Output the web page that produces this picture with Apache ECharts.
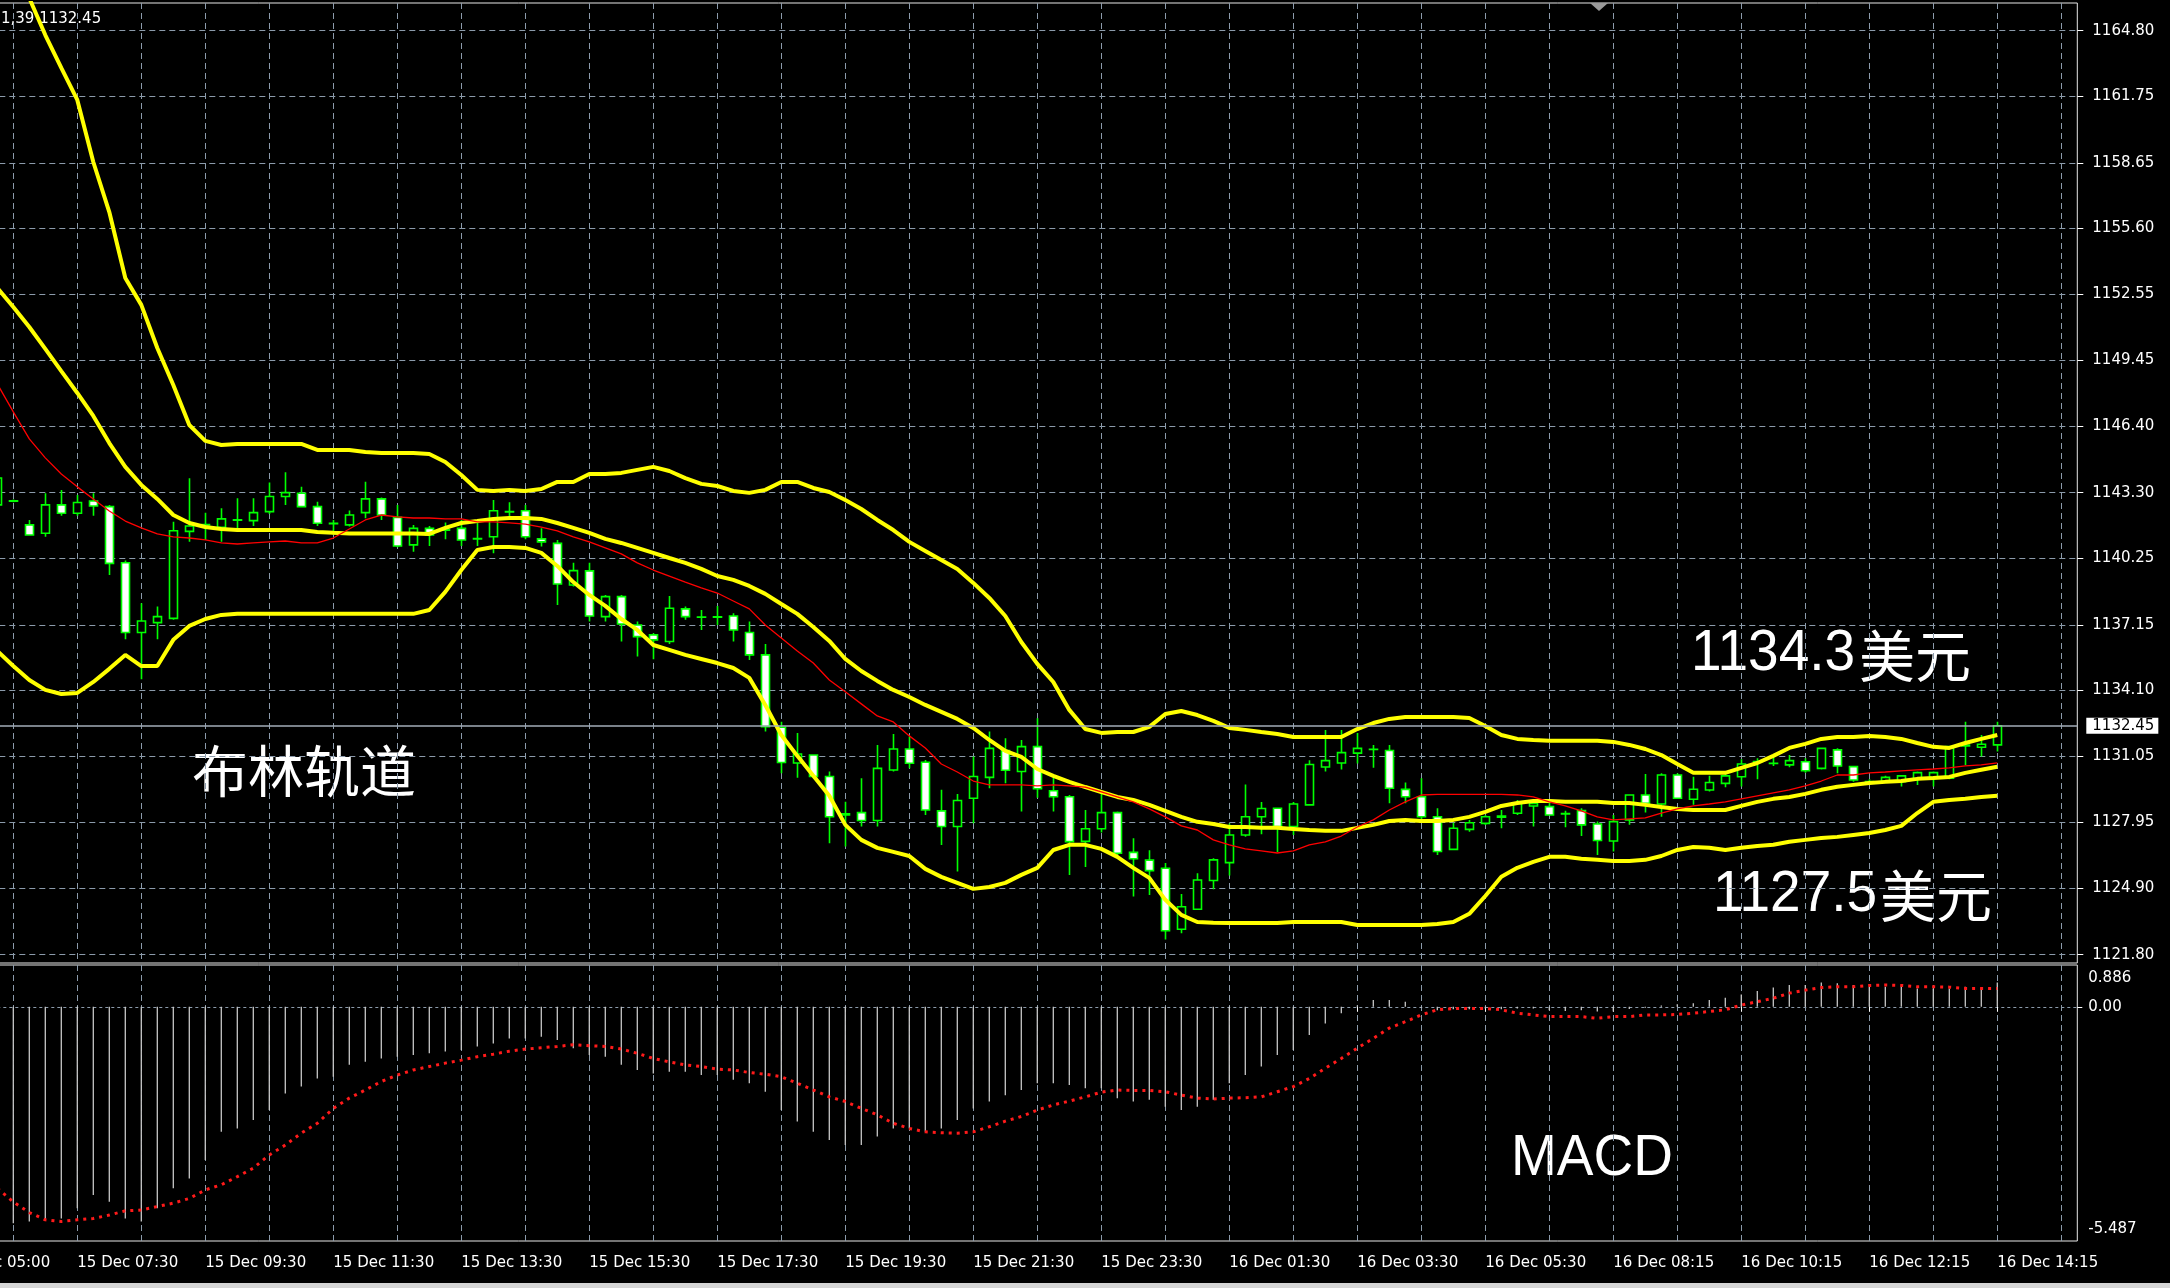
<!DOCTYPE html>
<html><head><meta charset="utf-8">
<style>html,body{margin:0;padding:0;background:#000;}#c{width:2170px;height:1288px;}</style>
<script src="https://cdn.jsdelivr.net/npm/echarts@6/dist/echarts.min.js"></script>
</head><body><div id="c"></div><script>
// ---------- data (bar k = 0..125, M15 candles) ----------
const TIME_LABELS = ["15 Dec 05:00","15 Dec 07:30","15 Dec 09:30","15 Dec 11:30","15 Dec 13:30","15 Dec 15:30","15 Dec 17:30","15 Dec 19:30","15 Dec 21:30","15 Dec 23:30","16 Dec 01:30","16 Dec 03:30","16 Dec 05:30","16 Dec 08:15","16 Dec 10:15","16 Dec 12:15","16 Dec 14:15"];
const PRICE_TICKS = [1121.80,1124.90,1127.95,1131.05,1134.10,1137.15,1140.25,1143.30,1146.40,1149.45,1152.55,1155.60,1158.65,1161.75,1164.80];
const MACD_TICKS = [0.886, 0, -5.487];
const MACD_TICK_LABELS = ["0.886","0.00","-5.487"];

const open = [1142.73,1142.90,1141.80,1141.41,1142.73,1142.34,1142.91,1142.65,1140.04,1136.79,1137.25,1137.45,1141.50,1141.80,1141.69,1142.02,1142.00,1142.42,1143.12,1143.27,1142.65,1141.88,1141.80,1142.37,1143.01,1142.15,1140.87,1141.64,1141.55,1141.64,1141.15,1141.25,1142.40,1142.46,1141.15,1140.94,1139.00,1139.66,1137.53,1138.46,1137.14,1136.68,1136.37,1137.89,1137.50,1137.52,1137.56,1136.79,1135.75,1132.38,1130.72,1131.09,1130.09,1128.30,1128.41,1128.04,1130.39,1131.37,1130.75,1128.49,1127.76,1129.08,1130.05,1131.30,1130.32,1131.48,1129.43,1129.15,1127.07,1127.66,1128.41,1126.56,1126.20,1125.82,1122.98,1123.91,1125.25,1126.08,1127.37,1128.22,1128.61,1127.76,1128.77,1130.53,1130.72,1131.18,1131.35,1131.30,1129.49,1129.15,1128.22,1126.70,1127.63,1127.91,1128.20,1128.38,1128.72,1128.69,1128.35,1128.50,1127.88,1127.09,1128.07,1129.23,1128.81,1130.16,1129.03,1129.46,1129.77,1130.08,1130.78,1130.70,1130.63,1130.78,1130.47,1131.33,1130.55,1129.85,1129.85,1129.85,1129.96,1130.05,1130.01,1131.51,1131.45,1131.56];
const close = [1143.98,1142.92,1141.33,1142.73,1142.34,1142.84,1142.68,1140.01,1136.79,1137.33,1137.53,1141.53,1141.75,1141.82,1142.08,1142.04,1142.37,1143.12,1143.30,1142.65,1141.88,1141.86,1142.26,1143.01,1142.26,1140.82,1141.64,1141.33,1141.58,1141.10,1141.16,1142.46,1142.42,1141.25,1141.01,1139.05,1139.67,1137.56,1138.46,1137.19,1136.60,1136.45,1137.92,1137.53,1137.51,1137.50,1136.91,1135.75,1132.41,1130.74,1131.14,1130.09,1128.22,1128.35,1128.04,1130.47,1131.37,1130.71,1128.53,1127.76,1128.97,1130.09,1131.40,1130.38,1131.48,1129.52,1129.15,1127.06,1127.66,1128.41,1126.52,1126.26,1125.71,1122.91,1124.03,1125.27,1126.21,1127.37,1128.22,1128.60,1127.76,1128.81,1130.65,1130.83,1131.20,1131.40,1131.36,1129.54,1129.15,1128.22,1126.60,1127.68,1127.94,1128.22,1128.25,1128.84,1128.84,1128.30,1128.36,1127.84,1127.11,1127.99,1129.23,1128.84,1130.16,1129.08,1129.50,1129.81,1130.12,1130.67,1130.79,1130.71,1130.83,1130.36,1131.40,1130.58,1129.93,1129.86,1130.05,1130.12,1130.27,1130.27,1131.48,1131.55,1131.59,1132.45];
const low = [1142.50,1142.85,1141.30,1141.25,1142.22,1142.22,1142.22,1139.47,1136.48,1134.62,1136.48,1137.38,1141.02,1141.10,1141.02,1141.64,1141.75,1142.31,1142.73,1142.62,1141.75,1141.33,1141.72,1142.11,1142.03,1140.76,1140.55,1140.82,1141.13,1140.82,1140.82,1140.48,1142.18,1141.13,1140.79,1138.07,1138.93,1137.30,1137.30,1136.37,1135.68,1135.55,1136.26,1137.38,1136.91,1137.14,1136.37,1135.51,1132.18,1130.24,1130.03,1130.01,1126.98,1126.83,1127.76,1127.76,1130.32,1130.47,1128.30,1126.90,1125.67,1127.91,1129.54,1129.78,1128.46,1129.10,1128.46,1125.51,1125.88,1127.48,1126.44,1124.50,1124.58,1122.50,1122.79,1123.88,1124.84,1125.48,1127.29,1127.40,1126.58,1127.37,1128.73,1130.32,1130.41,1130.70,1130.50,1128.84,1128.84,1128.07,1126.44,1126.70,1127.52,1127.83,1127.68,1128.30,1127.76,1128.28,1127.73,1127.32,1126.44,1126.60,1127.84,1128.41,1128.22,1129.05,1128.77,1129.39,1129.59,1129.62,1129.96,1130.58,1130.52,1130.27,1130.42,1130.24,1129.85,1129.74,1129.80,1129.62,1129.70,1129.62,1129.96,1130.63,1131.02,1131.25];
const high = [1144.30,1142.98,1142.03,1143.27,1143.43,1143.19,1143.27,1142.73,1140.14,1138.15,1138.00,1141.95,1143.97,1142.37,1142.57,1143.04,1143.04,1143.77,1144.25,1143.58,1142.88,1142.03,1142.47,1143.81,1143.08,1142.73,1141.80,1141.75,1141.91,1142.03,1141.91,1142.96,1142.85,1142.73,1141.64,1141.10,1140.04,1140.04,1138.54,1138.54,1137.30,1136.76,1138.49,1138.00,1137.84,1138.03,1137.69,1137.30,1136.26,1132.64,1132.12,1131.12,1130.32,1128.92,1130.01,1131.56,1132.07,1131.95,1130.86,1129.47,1129.28,1131.02,1132.18,1131.87,1131.79,1132.80,1130.09,1129.23,1128.53,1129.31,1128.46,1127.22,1126.66,1126.06,1124.62,1125.59,1126.29,1127.90,1129.72,1128.90,1128.64,1128.90,1130.85,1132.26,1132.26,1132.12,1131.56,1131.56,1129.81,1130.01,1128.61,1127.94,1128.07,1128.30,1128.53,1129.00,1128.87,1128.87,1128.50,1128.61,1127.99,1128.30,1129.25,1130.21,1130.24,1130.24,1130.08,1130.12,1130.19,1130.89,1130.94,1130.98,1131.09,1130.94,1131.42,1131.40,1130.58,1129.96,1130.12,1130.16,1130.32,1130.32,1131.51,1132.64,1132.02,1132.64];

const bbUpper = [1169.72,1168.00,1166.32,1164.60,1163.07,1161.58,1158.69,1156.36,1153.29,1152.04,1150.03,1148.31,1146.45,1145.71,1145.52,1145.57,1145.57,1145.57,1145.57,1145.57,1145.29,1145.29,1145.29,1145.19,1145.15,1145.15,1145.15,1145.10,1144.73,1144.12,1143.43,1143.38,1143.43,1143.38,1143.47,1143.80,1143.80,1144.17,1144.17,1144.22,1144.36,1144.50,1144.31,1143.98,1143.71,1143.61,1143.38,1143.29,1143.43,1143.80,1143.80,1143.52,1143.33,1142.96,1142.54,1142.03,1141.56,1141.01,1140.59,1140.17,1139.75,1139.10,1138.40,1137.56,1136.35,1135.33,1134.49,1133.19,1132.30,1132.12,1132.16,1132.16,1132.40,1133.00,1133.14,1132.95,1132.68,1132.35,1132.26,1132.16,1132.07,1131.93,1131.93,1131.93,1131.93,1132.30,1132.58,1132.77,1132.86,1132.86,1132.86,1132.86,1132.81,1132.44,1132.02,1131.84,1131.79,1131.75,1131.75,1131.75,1131.75,1131.70,1131.56,1131.37,1131.09,1130.67,1130.26,1130.26,1130.26,1130.49,1130.72,1131.05,1131.42,1131.61,1131.84,1131.93,1131.93,1131.98,1131.93,1131.84,1131.65,1131.47,1131.42,1131.65,1131.84,1132.02];
const bbMiddle = [1152.83,1151.94,1151.01,1149.99,1148.96,1147.94,1146.87,1145.61,1144.50,1143.66,1143.01,1142.26,1141.89,1141.70,1141.61,1141.56,1141.56,1141.56,1141.56,1141.56,1141.47,1141.43,1141.40,1141.40,1141.40,1141.40,1141.40,1141.38,1141.66,1141.89,1141.98,1142.08,1142.12,1142.12,1142.08,1141.89,1141.66,1141.43,1141.15,1140.96,1140.73,1140.50,1140.26,1140.03,1139.75,1139.42,1139.24,1138.96,1138.59,1138.12,1137.66,1137.05,1136.40,1135.56,1135.00,1134.54,1134.12,1133.79,1133.42,1133.10,1132.77,1132.35,1131.79,1131.28,1131.00,1130.44,1130.12,1129.84,1129.60,1129.37,1129.14,1129.00,1128.77,1128.49,1128.21,1127.98,1127.88,1127.74,1127.74,1127.70,1127.70,1127.65,1127.60,1127.56,1127.56,1127.70,1127.84,1128.02,1128.07,1128.02,1128.02,1128.07,1128.21,1128.44,1128.72,1128.86,1128.95,1128.95,1128.91,1128.91,1128.91,1128.86,1128.86,1128.77,1128.67,1128.58,1128.53,1128.53,1128.53,1128.72,1128.91,1129.05,1129.14,1129.28,1129.47,1129.61,1129.70,1129.79,1129.84,1129.88,1129.98,1130.02,1130.07,1130.26,1130.40,1130.54];
const bbLower = [1135.93,1135.23,1134.58,1134.12,1133.93,1133.98,1134.49,1135.10,1135.75,1135.23,1135.23,1136.45,1137.10,1137.42,1137.61,1137.66,1137.66,1137.66,1137.66,1137.66,1137.66,1137.66,1137.66,1137.66,1137.66,1137.66,1137.66,1137.84,1138.68,1139.70,1140.63,1140.77,1140.77,1140.73,1140.50,1139.89,1139.14,1138.54,1138.03,1137.42,1136.91,1136.21,1135.98,1135.75,1135.56,1135.37,1135.14,1134.68,1133.42,1132.02,1131.05,1130.12,1129.19,1127.84,1127.14,1126.77,1126.58,1126.39,1125.79,1125.42,1125.14,1124.86,1124.95,1125.14,1125.51,1125.84,1126.67,1126.91,1126.91,1126.72,1126.35,1125.84,1125.37,1124.35,1123.65,1123.32,1123.28,1123.27,1123.27,1123.27,1123.27,1123.32,1123.32,1123.32,1123.32,1123.18,1123.18,1123.18,1123.18,1123.18,1123.23,1123.32,1123.70,1124.53,1125.42,1125.84,1126.12,1126.35,1126.35,1126.26,1126.21,1126.16,1126.16,1126.21,1126.39,1126.67,1126.81,1126.77,1126.67,1126.77,1126.86,1126.91,1127.05,1127.14,1127.23,1127.28,1127.37,1127.46,1127.60,1127.79,1128.39,1128.91,1129.00,1129.05,1129.14,1129.19];
const maRed = [1148.36,1147.06,1145.80,1144.92,1144.17,1143.57,1143.01,1142.45,1141.98,1141.66,1141.38,1141.24,1141.19,1141.10,1140.96,1140.91,1140.96,1141.01,1141.05,1140.96,1140.96,1141.19,1141.61,1142.03,1142.26,1142.17,1142.12,1142.12,1142.08,1142.08,1141.94,1141.94,1141.89,1141.84,1141.70,1141.52,1141.24,1141.01,1140.73,1140.45,1140.03,1139.70,1139.42,1139.14,1138.87,1138.63,1138.26,1137.89,1137.14,1136.54,1135.93,1135.37,1134.58,1134.03,1133.47,1132.91,1132.63,1131.98,1131.42,1130.67,1130.30,1129.88,1129.70,1129.70,1129.70,1129.65,1129.70,1129.65,1129.60,1129.37,1129.14,1128.91,1128.58,1128.21,1127.79,1127.60,1127.14,1126.91,1126.72,1126.63,1126.53,1126.63,1126.91,1127.05,1127.32,1127.74,1128.07,1128.53,1128.91,1129.23,1129.26,1129.26,1129.26,1129.26,1129.26,1129.23,1129.14,1128.91,1128.72,1128.49,1128.21,1128.07,1128.12,1128.16,1128.39,1128.58,1128.72,1128.81,1128.91,1129.05,1129.19,1129.33,1129.47,1129.65,1129.88,1130.16,1130.16,1130.26,1130.30,1130.35,1130.40,1130.44,1130.49,1130.58,1130.63,1130.72];
const macdMain = [-5.10,-5.07,-5.03,-4.99,-4.96,-4.72,-4.41,-4.57,-4.96,-5.03,-4.72,-4.25,-4.02,-3.59,-2.93,-2.85,-2.65,-2.42,-2.03,-1.87,-1.68,-1.64,-1.36,-1.29,-1.21,-1.17,-1.13,-1.09,-1.05,-1.01,-0.93,-0.86,-0.74,-0.74,-0.70,-0.78,-0.97,-1.13,-1.17,-1.36,-1.48,-1.56,-1.52,-1.52,-1.60,-1.60,-1.71,-1.79,-1.99,-2.42,-2.69,-2.93,-3.12,-3.24,-3.24,-3.04,-2.85,-2.85,-2.93,-2.85,-2.65,-2.38,-2.22,-2.07,-1.95,-1.79,-1.79,-1.83,-1.91,-1.91,-2.14,-2.22,-2.18,-2.34,-2.42,-2.34,-2.18,-1.79,-1.60,-1.40,-1.13,-1.01,-0.66,-0.39,-0.15,0.03,0.16,0.16,0.12,-0.02,-0.08,-0.06,-0.06,-0.04,-0.06,-0.04,-0.04,-0.08,-0.10,-0.08,-0.11,-0.11,-0.05,-0.02,0.03,0.06,0.08,0.16,0.21,0.29,0.37,0.45,0.51,0.51,0.57,0.55,0.51,0.47,0.47,0.47,0.43,0.43,0.43,0.47,0.43,0.57];
const macdSignal = [-4.25,-4.57,-4.82,-4.99,-5.03,-4.99,-4.96,-4.88,-4.78,-4.76,-4.68,-4.60,-4.49,-4.29,-4.17,-3.98,-3.78,-3.47,-3.24,-2.96,-2.73,-2.38,-2.14,-1.95,-1.75,-1.60,-1.48,-1.40,-1.32,-1.25,-1.17,-1.11,-1.04,-0.99,-0.96,-0.93,-0.89,-0.91,-0.93,-0.99,-1.09,-1.21,-1.29,-1.36,-1.40,-1.46,-1.48,-1.54,-1.58,-1.64,-1.79,-1.95,-2.11,-2.22,-2.38,-2.53,-2.73,-2.85,-2.93,-2.95,-2.96,-2.93,-2.81,-2.68,-2.57,-2.42,-2.30,-2.21,-2.11,-2.00,-1.95,-1.96,-1.96,-1.99,-2.07,-2.14,-2.16,-2.14,-2.13,-2.11,-1.99,-1.87,-1.68,-1.44,-1.21,-0.97,-0.74,-0.50,-0.35,-0.19,-0.07,-0.04,-0.04,-0.04,-0.07,-0.15,-0.19,-0.23,-0.23,-0.23,-0.27,-0.23,-0.23,-0.19,-0.19,-0.18,-0.15,-0.11,-0.07,0.04,0.12,0.20,0.32,0.39,0.45,0.47,0.47,0.50,0.51,0.50,0.47,0.47,0.46,0.43,0.43,0.43];

// ---------- category axis (3 slots before first bar, 5 empty slots after last bar) ----------
const LEAD = 3, TRAIL = 5, N = LEAD + open.length + TRAIL;
function pad2(n){return (n<10?'0':'')+n;}
function addMin(lbl, m){
  const p = lbl.split(' '); const hm = p[2].split(':');
  let t = (+hm[0])*60 + (+hm[1]) + m; let day = +p[0] + Math.floor(t/1440);
  t = ((t%1440)+1440)%1440;
  return day+' '+p[1]+' '+pad2(Math.floor(t/60))+':'+pad2(t%60);
}
const categories = [];
for (let i=0;i<N;i++){ const a = Math.min(Math.floor(i/8), TIME_LABELS.length-1); categories.push(addMin(TIME_LABELS[a], 15*(i-8*a))); }
function padArr(arr){ return Array(LEAD).fill('-').concat(arr, Array(TRAIL).fill('-')); }
const candleData = padArr(open.map((o,i)=>[o, close[i], low[i], high[i]]));
const lastClose = close[close.length-1];

const GRID_C = '#8c9bab';
const FONT = '"DejaVu Sans", sans-serif';
const SP = 16, LEFT = -50.7, WIDTH = SP*(N-1);

const chart = echarts.init(document.getElementById('c'), null, {renderer:'canvas'});
chart.setOption({
  backgroundColor:'#000', animation:false,
  grid:[
    {left:LEFT, top:3, width:WIDTH, height:960, outerBoundsMode:'none', containLabel:false, show:true, borderColor:'#e8e8e8', borderWidth:1, backgroundColor:'transparent'},
    {left:LEFT, top:965, width:WIDTH, height:276, outerBoundsMode:'none', containLabel:false, show:true, borderColor:'#e8e8e8', borderWidth:1, backgroundColor:'transparent'}
  ],
  xAxis:[
    {type:'category', gridIndex:0, data:categories, boundaryGap:false,
     axisLine:{show:false}, axisTick:{show:false}, axisLabel:{show:false},
     splitLine:{show:true, interval:(i)=>i%4===0, lineStyle:{color:GRID_C, width:1, type:[6,4]}}},
    {type:'category', gridIndex:1, data:categories, boundaryGap:false,
     axisLine:{show:false},
     axisTick:{show:true, interval:(i)=>i%8===0, length:5, lineStyle:{color:'#fff'}},
     axisLabel:{show:true, interval:(i)=>i%8===0, align:'left', color:'#fff', fontFamily:FONT, fontSize:15, margin:15,
       formatter:(v,i)=> (i%8===0 ? TIME_LABELS[i/8] : '')},
     splitLine:{show:true, interval:(i)=>i%4===0, lineStyle:{color:GRID_C, width:1, type:[6,4]}}}
  ],
  yAxis:[
    {type:'value', gridIndex:0, position:'right', min:1121.41, max:1166.09,
     axisLine:{show:false},
     axisTick:{show:true, customValues:PRICE_TICKS, length:6, lineStyle:{color:'#fff'}},
     axisLabel:{show:true, customValues:PRICE_TICKS, color:'#fff', fontFamily:FONT, fontSize:15, margin:15,
       formatter:(v)=>v.toFixed(2)},
     splitLine:{show:true, lineStyle:{color:GRID_C, width:1, type:[6,4]}}},
    {type:'value', gridIndex:1, position:'right', min:-5.487, max:0.979,
     axisLine:{show:false},
     axisTick:{show:true, customValues:[0], length:5, lineStyle:{color:'#fff'}},
     axisLabel:{show:true, customValues:MACD_TICKS, color:'#fff', fontFamily:FONT, fontSize:15, margin:11,
       formatter:(v)=>{ const i = MACD_TICKS.indexOf(v); const s = MACD_TICK_LABELS[i]; return v>0.1 ? '{t|'+s+'}' : (v<-0.1 ? '{b|'+s+'}' : '{m|'+s+'}'); },
       rich:{t:{color:'#fff',fontFamily:FONT,fontSize:15,padding:[18,0,0,0]}, b:{color:'#fff',fontFamily:FONT,fontSize:15,padding:[0,0,24,0]}, m:{color:'#fff',fontFamily:FONT,fontSize:15}}},
     splitLine:{show:true, lineStyle:{color:GRID_C, width:1, type:[3,3]}}}
  ],
  series:[
    {type:'candlestick', xAxisIndex:0, yAxisIndex:0, data:candleData, barWidth:8, z:2,
     itemStyle:{color:'#000', color0:'#fff', borderColor:'#00ff00', borderColor0:'#00ff00', borderColorDoji:'#00ff00', borderWidth:1.6},
     markLine:{silent:true, symbol:['none','none'], animation:false,
       data:[{yAxis:lastClose}],
       lineStyle:{color:'#a3adb8', width:1.5, type:'solid'},
       label:{show:true, position:'end', distance:9, formatter:lastClose.toFixed(2), backgroundColor:'#fff', color:'#000',
         fontFamily:FONT, fontSize:15, padding:[1,4,0,6]}}},
    {type:'line', xAxisIndex:0, yAxisIndex:0, data:padArr(bbUpper), symbol:'none', z:4, lineStyle:{color:'#ffff00', width:4}},
    {type:'line', xAxisIndex:0, yAxisIndex:0, data:padArr(bbMiddle), symbol:'none', z:4, lineStyle:{color:'#ffff00', width:4}},
    {type:'line', xAxisIndex:0, yAxisIndex:0, data:padArr(bbLower), symbol:'none', z:4, lineStyle:{color:'#ffff00', width:4}},
    {type:'line', xAxisIndex:0, yAxisIndex:0, data:padArr(maRed), symbol:'none', z:5, lineStyle:{color:'#ff0000', width:1.3}},
    {type:'bar', xAxisIndex:1, yAxisIndex:1, data:padArr(macdMain), barWidth:1.3, itemStyle:{color:'#c8c8c8'}},
    {type:'line', xAxisIndex:1, yAxisIndex:1, data:padArr(macdSignal), symbol:'none', z:4, lineStyle:{color:'#ff1a1a', width:3, type:[3,5]}}
  ],
  graphic:[
    {type:'text', x:1, y:19, style:{text:'1,39 1132.45', fill:'#fff', fontFamily:FONT, fontSize:15, verticalAlign:'middle', align:'left'}},
    {type:'polygon', shape:{points:[[1590,3],[1608,3],[1599,11]]}, style:{fill:'#9a9a9a'}},
    {type:'text', x:192, y:771, style:{text:'布林轨道', fill:'#fff', fontFamily:'"Noto Sans CJK SC"', fontSize:56, verticalAlign:'middle', align:'left'}},
    {type:'text', x:1691, y:654, scaleY:1.05, style:{text:'1134.3', fill:'#fff', fontFamily:'"Liberation Sans", Arial', fontSize:55, verticalAlign:'middle', align:'left'}},
    {type:'text', x:1859, y:656, style:{text:'美元', fill:'#fff', fontFamily:'"Noto Sans CJK SC"', fontSize:56, verticalAlign:'middle', align:'left'}},
    {type:'text', x:1713, y:895, scaleY:1.05, style:{text:'1127.5', fill:'#fff', fontFamily:'"Liberation Sans", Arial', fontSize:55, verticalAlign:'middle', align:'left'}},
    {type:'text', x:1880, y:896, style:{text:'美元', fill:'#fff', fontFamily:'"Noto Sans CJK SC"', fontSize:56, verticalAlign:'middle', align:'left'}},
    {type:'text', x:1511, y:1159, scaleY:1.04, style:{text:'MACD', fill:'#fff', fontFamily:'"Liberation Sans", Arial', fontSize:55, verticalAlign:'middle', align:'left'}},
    {type:'rect', shape:{x:0, y:1283, width:2170, height:5}, style:{fill:'#d6d6d6'}}
  ]
});
</script></body></html>
